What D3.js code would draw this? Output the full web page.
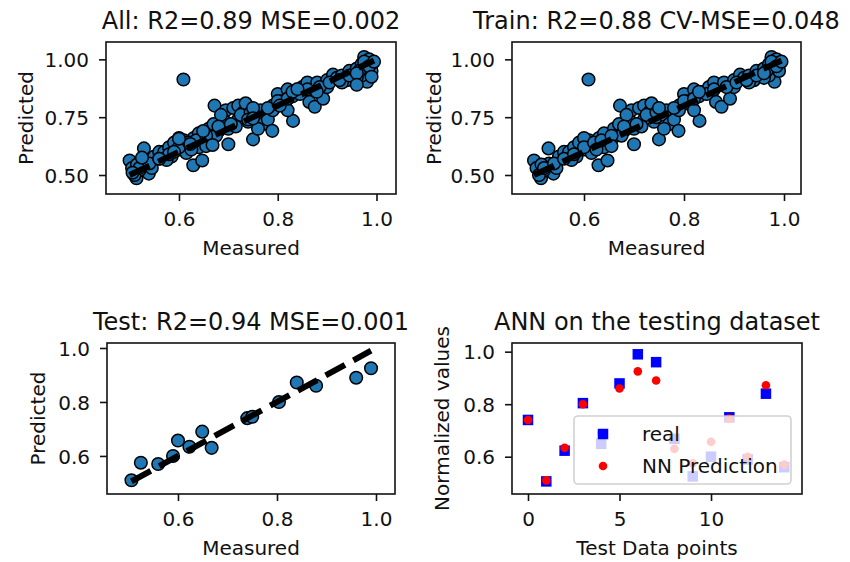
<!DOCTYPE html>
<html><head><meta charset="utf-8">
<script src="https://cdn.jsdelivr.net/npm/d3@7"></script>
<style>
html,body{margin:0;padding:0;background:#fff;}
text{font-family:"DejaVu Sans",sans-serif;fill:#111;}
</style></head>
<body><svg id="c" width="850" height="562"></svg>
<script>
// ---------- data ----------
const testMeasured  = [0.74,0.506,0.623,0.804,0.649,0.879,0.99,0.96,0.668,0.525,0.60,0.75,0.59,0.84,0.56];
const testPredicted = [0.74,0.51,0.634,0.80,0.69,0.86,0.925,0.89,0.63,0.575,0.657,0.745,0.60,0.872,0.57];
const testIndex = [0,1,2,3,4,5,6,7,8,9,10,11,12,13,14];

const trainMeasured = [0.500,0.514,0.539,0.529,0.505,0.520,0.510,0.530,0.550,0.545,0.560,0.515,
  0.570,0.580,0.590,0.600,0.585,0.610,0.620,0.629,0.647,0.600,0.575,0.615,0.609,
  0.630,0.640,0.650,0.660,0.672,0.670,0.680,0.690,0.700,0.695,0.685,0.660,0.640,0.675,0.700,
  0.710,0.720,0.730,0.740,0.750,0.745,0.760,0.770,0.720,0.735,0.780,0.789,0.790,0.800,0.790,0.760,0.715,
  0.810,0.820,0.830,0.831,0.815,0.840,0.820,0.864,0.875,0.870,0.850,0.860,0.880,
  0.892,0.900,0.912,0.920,0.930,0.940,0.950,0.930,0.900,0.945,
  0.960,0.970,0.975,0.985,0.989,0.981,0.970,0.990,0.980,0.965,0.990,0.960,
  0.520,0.540,0.560,0.580,0.600,0.620,0.635,0.655,0.680,0.705,0.725,0.745,0.765,0.780,0.800,
  0.820,0.845,0.860,0.885,0.905,0.925,0.945,0.960,0.975,0.985,0.995,0.625,0.655,0.750,0.830];
const trainPredicted = [0.563,0.486,0.506,0.615,0.530,0.520,0.500,0.550,0.580,0.530,0.600,0.545,
  0.600,0.620,0.640,0.610,0.580,0.650,0.630,0.542,0.563,0.660,0.565,0.595,0.913,
  0.660,0.680,0.640,0.700,0.800,0.720,0.690,0.740,0.633,0.780,0.760,0.665,0.620,0.670,0.700,
  0.790,0.800,0.770,0.730,0.654,0.750,0.760,0.720,0.740,0.810,0.740,0.691,0.800,0.850,0.780,0.700,0.710,
  0.820,0.870,0.840,0.734,0.800,0.860,0.780,0.816,0.795,0.890,0.880,0.900,0.900,
  0.830,0.910,0.934,0.920,0.930,0.910,0.940,0.900,0.880,0.950,
  0.960,0.980,1.010,1.000,0.961,0.903,0.930,0.950,0.970,0.950,0.985,0.920,
  0.530,0.550,0.570,0.590,0.620,0.640,0.650,0.670,0.710,0.720,0.760,0.770,0.780,0.790,0.820,
  0.830,0.850,0.870,0.880,0.900,0.910,0.930,0.940,0.990,0.970,0.990,0.610,0.625,0.790,0.860];

const allMeasured  = trainMeasured.concat(testMeasured);
const allPredicted = trainPredicted.concat(testPredicted);

const titles = ["All: R2=0.89 MSE=0.002","Train: R2=0.88 CV-MSE=0.048","Test: R2=0.94 MSE=0.001","ANN on the testing dataset"];
const ticksTop = [0.50,0.75,1.00];
const ticksXReg = [0.6,0.8,1.0];
const ticksYTest = [0.6,0.8,1.0];
const ticksXIdx = [0,5,10];
const ticksYAnn = [0.6,0.8,1.0];
const legendLabels = ["real","NN Prediction"];

// ---------- drawing ----------
const svg = d3.select("#c");
const BLUE = "#1f77b4";
const INK = "#111";

function panel(o){
  const g = svg.append("g");
  const x = d3.scaleLinear().domain(o.xd).range([o.l,o.r]);
  const y = d3.scaleLinear().domain(o.yd).range([o.b,o.t]);
  o.draw(g,x,y);
  g.append("rect").attr("x",o.l).attr("y",o.t).attr("width",o.r-o.l).attr("height",o.b-o.t)
    .attr("fill","none").attr("stroke",INK).attr("stroke-width",1.6);
  const xa = d3.axisBottom(x).tickValues(o.xt).tickFormat(o.xf).tickSize(7).tickPadding(11);
  const ya = d3.axisLeft(y).tickValues(o.yt).tickFormat(o.yf).tickSize(7).tickPadding(10);
  const gx = g.append("g").attr("transform",`translate(0,${o.b})`).call(xa);
  const gy = g.append("g").attr("transform",`translate(${o.l},0)`).call(ya);
  [gx,gy].forEach(a=>{
    a.select(".domain").remove();
    a.selectAll(".tick line").attr("stroke",INK).attr("stroke-width",1.6);
    a.selectAll(".tick text").attr("font-size",20).attr("font-family","DejaVu Sans").attr("fill",INK);
  });
  gx.selectAll(".tick text").attr("dy","0.71em");
  gy.selectAll(".tick text").attr("dy","0.36em");
  g.append("text").attr("x",(o.l+o.r)/2).attr("y",o.t-13.5).attr("text-anchor","middle")
    .attr("font-size",24).text(o.title);
  g.append("text").attr("x",(o.l+o.r)/2).attr("y",o.b+60.5).attr("text-anchor","middle")
    .attr("font-size",20).text(o.xl);
  g.append("text").attr("transform",`translate(${o.l-o.ylo},${(o.t+o.b)/2}) rotate(-90)`)
    .attr("text-anchor","middle").attr("font-size",20).text(o.yl);
}

function regDraw(mx,py){
  return function(g,x,y){
    g.selectAll("circle.p").data(mx.map((m,i)=>[m,py[i]])).join("circle").attr("class","p")
      .attr("cx",d=>x(d[0])).attr("cy",d=>y(d[1])).attr("r",6.3)
      .attr("fill",BLUE).attr("stroke","#000").attr("stroke-width",1.5);
    const ext = d3.extent(mx);
    g.append("line").attr("x1",x(ext[0])).attr("y1",y(ext[0])).attr("x2",x(ext[1])).attr("y2",y(ext[1]))
      .attr("stroke","#000").attr("stroke-width",6).attr("stroke-dasharray","22,9.6");
  };
}

const f2 = d3.format(".2f"), f1 = d3.format(".1f");

panel({l:106,r:396,t:42,b:194,xd:[0.4522,1.0395],yd:[0.4179,1.075],xt:ticksXReg,yt:ticksTop,xf:f1,yf:f2,
  title:titles[0],xl:"Measured",yl:"Predicted",ylo:73,draw:regDraw(allMeasured,allPredicted)});
panel({l:512,r:801,t:42,b:194,xd:[0.456,1.034],yd:[0.4179,1.075],xt:ticksXReg,yt:ticksTop,xf:f1,yf:f2,
  title:titles[1],xl:"Measured",yl:"Predicted",ylo:71,draw:regDraw(trainMeasured,trainPredicted)});
panel({l:107,r:395,t:343,b:494,xd:[0.4566,1.0384],yd:[0.459,1.0185],xt:ticksXReg,yt:ticksYTest,xf:f1,yf:f1,
  title:titles[2],xl:"Measured",yl:"Predicted",ylo:62,draw:regDraw(testMeasured,testPredicted)});
panel({l:512,r:802,t:343,b:494,xd:[-0.874,14.97],yd:[0.458,1.033],xt:ticksXIdx,yt:ticksYAnn,xf:d3.format("d"),yf:f1,
  title:titles[3],xl:"Test Data points",yl:"Normalized values",ylo:63,
  draw:function(g,x,y){
    const S=10.5;
    g.selectAll("rect.r").data(testIndex).join("rect").attr("class","r")
      .attr("x",i=>x(i)-S/2).attr("y",i=>y(testMeasured[i])-S/2).attr("width",S).attr("height",S)
      .attr("fill","#0000ff");
    g.selectAll("circle.n").data(testIndex).join("circle").attr("class","n")
      .attr("cx",i=>x(i)).attr("cy",i=>y(testPredicted[i])).attr("r",4.3).attr("fill","#ff0000");
    const L = g.append("g");
    L.append("rect").attr("x",574).attr("y",416).attr("width",217).attr("height",68).attr("rx",4)
      .attr("fill","#fff").attr("fill-opacity",0.8).attr("stroke","#ccc").attr("stroke-opacity",0.9).attr("stroke-width",1.6);
    L.append("rect").attr("x",603-S/2).attr("y",434-S/2).attr("width",S).attr("height",S).attr("fill","#0000ff");
    L.append("circle").attr("cx",603).attr("cy",466).attr("r",4.3).attr("fill","#ff0000");
    L.append("text").attr("x",642).attr("y",441).attr("font-size",20).text(legendLabels[0]);
    L.append("text").attr("x",642).attr("y",473).attr("font-size",20).text(legendLabels[1]);
  }});
</script></body></html>
